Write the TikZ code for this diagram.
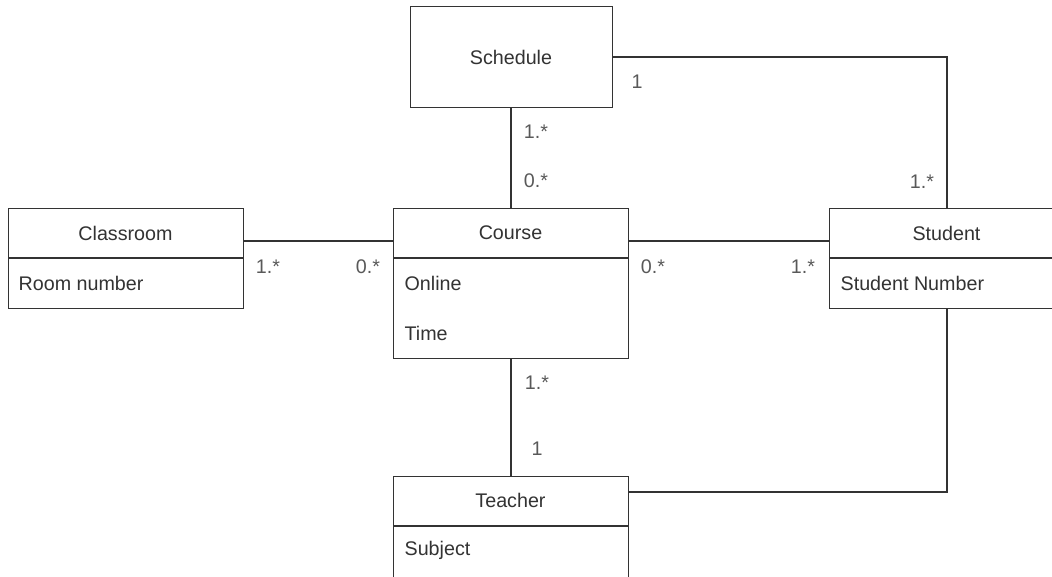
\documentclass[tikz,border=0pt]{standalone}
\usepackage{fontspec}
\setmainfont{Liberation Sans}
\begin{document}
\begin{tikzpicture}[x=1pt,y=-1pt,
  line width=1.3pt,
  every node/.style={font=\fontsize{19.7}{23}\selectfont},
  umlbox/.style={draw=black!80, rectangle, anchor=north west, inner sep=0pt, fill=white},
  title/.style={text=black!80, inner sep=0pt, anchor=center},
  attr/.style={text=black!80, inner sep=0pt, anchor=west},
  mult/.style={text=black!65, inner sep=0pt, anchor=center},
  link/.style={draw=black!80}]
\useasboundingbox (0,0) rectangle (1052,576);
\clip (0,0) rectangle (1052,576);

% class boxes
\node[umlbox, minimum width=202pt, minimum height=101pt] (schedule) at (410,6) {};
\node[umlbox, minimum width=235pt, minimum height=100pt] (classroom) at (8,208) {};
\node[umlbox, minimum width=235pt, minimum height=150pt] (course) at (393,208) {};
\node[umlbox, minimum width=235pt, minimum height=100pt] (student) at (829,208) {};
\node[umlbox, minimum width=235pt, minimum height=102pt] (teacher) at (393,476) {};

% header separators
\draw[link] (8,258) -- (243,258);
\draw[link] (393,258) -- (628,258);
\draw[link] (829,258) -- (1064,258);
\draw[link] (393,526) -- (628,526);

% titles and attributes
\node[title] (tschedule) at (511,57) {Schedule};
\node[title] (tclassroom) at (125.5,233) {Classroom};
\node[attr] (aroom) at (18,283) {Room number};
\node[title] (tcourse) at (510.5,233) {Course};
\node[attr] (aonline) at (404,283) {Online};
\node[attr] (atime) at (404,333) {Time};
\node[title] (tstudent) at (946.5,233) {Student};
\node[attr] (anumber) at (840,283) {Student Number};
\node[title] (tteacher) at (510.5,500) {Teacher};
\node[attr] (asubject) at (404,550) {Subject};

% associations
\coordinate (c1) at (947,57);
\coordinate (c2) at (947,492);
\draw[link] (schedule.east |- tschedule) -- (c1) -- (c1 |- student.north);
\draw[link] (tschedule |- schedule.south) -- (tschedule |- course.north);
\draw[link] (classroom.east |- 0,241) -- (course.west |- 0,241);
\draw[link] (course.east |- 0,241) -- (student.west |- 0,241);
\draw[link] (tschedule |- course.south) -- (tschedule |- teacher.north);
\draw[link] (c1 |- student.south) -- (c2) -- (teacher.east |- c2);

% multiplicities
\node[mult] (m1) at (637,82) {1};
\node[mult] (m2) at (922,182) {1.*};
\node[mult] (m3) at (536,132) {1.*};
\node[mult] (m4) at (536,181) {0.*};
\node[mult] (m5) at (268,267) {1.*};
\node[mult] (m6) at (368,267) {0.*};
\node[mult] (m7) at (653,267) {0.*};
\node[mult] (m8) at (803,267) {1.*};
\node[mult] (m9) at (537,383) {1.*};
\node[mult] (m10) at (537,449) {1};
\end{tikzpicture}
\end{document}
